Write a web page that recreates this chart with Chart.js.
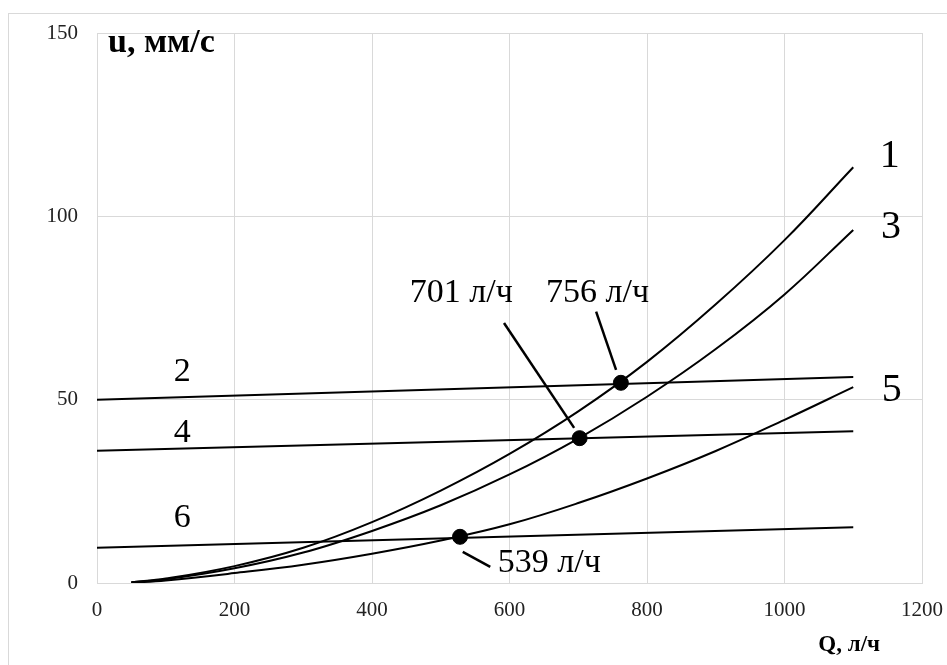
<!DOCTYPE html>
<html>
<head>
<meta charset="utf-8">
<script src="https://cdn.jsdelivr.net/npm/chart.js@4"></script>
<style>
  html, body { margin: 0; padding: 0; background: #fff; }
  #chart { display: block; }
</style>
</head>
<body>
<canvas id="chart" width="947" height="665"></canvas>
<script>
// Q values for the curves (l/h) and read-off velocities (mm/s)
const qCurve = [50, 100, 200, 300, 400, 500, 600, 700, 800, 900, 1000, 1100];
const u1 = [0.2, 1.2, 4.6, 9.6, 16.6, 25.2, 35.2, 46.8, 60.3, 76, 93.5, 113.4];
const u3 = [0.2, 1.0, 4.0, 8.3, 14.2, 21.2, 29.6, 39.4, 50.8, 63.8, 78.7, 96.3];
const u5 = [0.1, 0.7, 2.7, 5, 8, 11.6, 16, 21.8, 28.5, 36, 44.5, 53.4];

// straight lines
const qLine = [0, 1100];
const u2 = [50, 56.2];
const u4 = [36.1, 41.4];
const u6 = [9.6, 15.2];

// intersection points
const markQ = [762, 702, 528];
const markU = [54.6, 39.5, 12.6];
const markText = ['756 л/ч', '701 л/ч', '539 л/ч'];

const xTicks = [0, 200, 400, 600, 800, 1000, 1200];
const yTicks = [0, 50, 100, 150];

const toXY = (xs, ys) => xs.map((x, i) => ({ x: x, y: ys[i] }));

// where the text goes (data coords)
const notePos = [
    { x: 728, y: 79.1, align: 'center', from: [726, 74], to: [755, 58.1] },
    { x: 530, y: 79.1, align: 'center', from: [592, 70.9], to: [694, 42.3] },
    { x: 583, y: 5.5, align: 'left', from: [532, 8.5], to: [572, 4.4] }
];
const curveLabels = [
    { t: '1', x: 1153, y: 116.3, size: 40 },
    { t: '3', x: 1155, y: 96.9, size: 40 },
    { t: '5', x: 1156, y: 52.4, size: 40 },
    { t: '2', x: 124, y: 57.5, size: 34 },
    { t: '4', x: 124, y: 40.8, size: 34 },
    { t: '6', x: 124, y: 17.6, size: 34 }
];

const SERIF = '"Liberation Serif", "Times New Roman", serif';

const extras = {
    id: 'extras',
    beforeDraw(chart) {
        const ctx = chart.ctx;
        ctx.save();
        ctx.fillStyle = '#fff';
        ctx.fillRect(0, 0, chart.width, chart.height);
        ctx.strokeStyle = '#d9d9d9';
        ctx.lineWidth = 1;
        ctx.strokeRect(8.5, 13.5, 1000, 1000);
        ctx.restore();
    },
    afterDatasetsDraw(chart) {
        const ctx = chart.ctx;
        const xs = chart.scales.x, ys = chart.scales.y;
        const area = chart.chartArea;
        ctx.save();
        ctx.fillStyle = '#000';
        ctx.strokeStyle = '#000';

        // leader lines + notes
        ctx.lineWidth = 2.5;
        ctx.font = '34px ' + SERIF;
        ctx.textBaseline = 'middle';
        notePos.forEach((n, i) => {
            ctx.beginPath();
            ctx.moveTo(xs.getPixelForValue(n.from[0]), ys.getPixelForValue(n.from[1]));
            ctx.lineTo(xs.getPixelForValue(n.to[0]), ys.getPixelForValue(n.to[1]));
            ctx.stroke();
            ctx.textAlign = n.align;
            ctx.fillText(markText[i], xs.getPixelForValue(n.x), ys.getPixelForValue(n.y));
        });

        // curve numbers
        ctx.textAlign = 'center';
        curveLabels.forEach(l => {
            ctx.font = l.size + 'px ' + SERIF;
            ctx.fillText(l.t, xs.getPixelForValue(l.x), ys.getPixelForValue(l.y));
        });

        // axis titles
        ctx.font = 'bold 34px ' + SERIF;
        ctx.textAlign = 'left';
        ctx.textBaseline = 'alphabetic';
        ctx.fillText('u, мм/с', area.left + 11, area.top + 19);
        ctx.font = 'bold 23px ' + SERIF;
        ctx.textAlign = 'right';
        ctx.fillText('Q, л/ч', 880, 651);
        ctx.restore();
    }
};

const lineStyle = {
    showLine: true,
    borderColor: '#000',
    borderWidth: 2,
    pointRadius: 0,
    fill: false
};

new Chart(document.getElementById('chart'), {
    type: 'scatter',
    data: {
        datasets: [
            Object.assign({ label: '1', data: toXY(qCurve, u1), tension: 0.4 }, lineStyle),
            Object.assign({ label: '3', data: toXY(qCurve, u3), tension: 0.4 }, lineStyle),
            Object.assign({ label: '5', data: toXY(qCurve, u5), tension: 0.4 }, lineStyle),
            Object.assign({ label: '2', data: toXY(qLine, u2) }, lineStyle),
            Object.assign({ label: '4', data: toXY(qLine, u4) }, lineStyle),
            Object.assign({ label: '6', data: toXY(qLine, u6) }, lineStyle),
            {
                label: 'points',
                data: toXY(markQ, markU),
                pointRadius: 7.5,
                pointBackgroundColor: '#000',
                pointBorderColor: '#000',
                showLine: false
            }
        ]
    },
    options: {
        responsive: false,
        animation: false,
        events: [],
        layout: { padding: { left: 0, top: 33, right: 25, bottom: 0 } },
        plugins: {
            legend: { display: false },
            tooltip: { enabled: false }
        },
        scales: {
            x: {
                type: 'linear',
                min: 0,
                max: 1200,
                afterFit: s => { s.height = 82; s.paddingRight = 0; },
                afterBuildTicks: s => { s.ticks = xTicks.map(v => ({ value: v })); },
                grid: { color: '#d9d9d9', drawTicks: false },
                border: { color: '#d9d9d9' },
                ticks: {
                    padding: 15,
                    color: '#222',
                    font: { family: SERIF, size: 21 },
                    maxRotation: 0,
                    callback: v => String(v)
                }
            },
            y: {
                type: 'linear',
                min: 0,
                max: 150,
                afterFit: s => { s.width = 97; },
                afterBuildTicks: s => { s.ticks = yTicks.map(v => ({ value: v })); },
                grid: { color: '#d9d9d9', drawTicks: false },
                border: { color: '#d9d9d9' },
                ticks: {
                    padding: 19,
                    color: '#222',
                    font: { family: SERIF, size: 21 },
                    callback: v => String(v)
                }
            }
        }
    },
    plugins: [extras]
});
</script>
</body>
</html>
